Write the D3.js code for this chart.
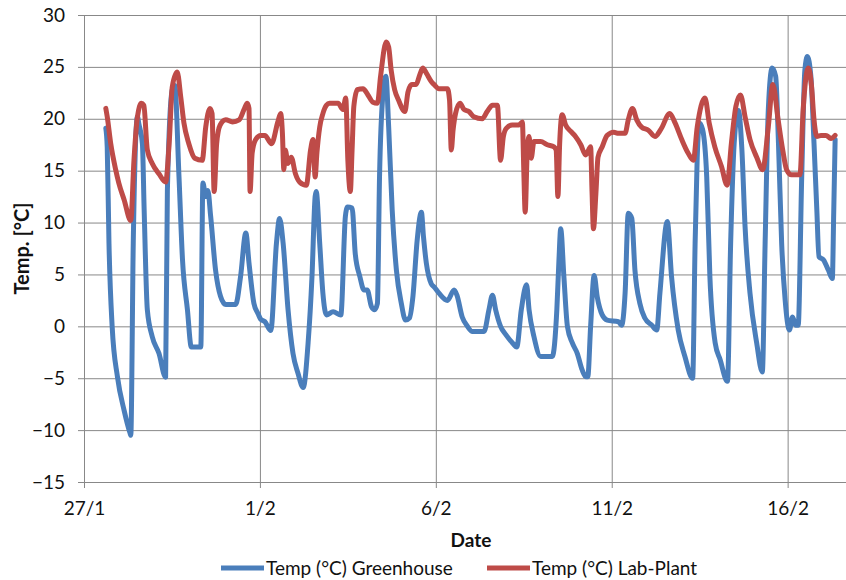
<!DOCTYPE html>
<html>
<head>
<meta charset="utf-8">
<script src="https://cdn.jsdelivr.net/npm/d3@7"></script>
<style>
  html, body { margin: 0; padding: 0; background: #fff; }
  svg { display: block; font-family: Lato, "Open Sans", sans-serif; }
</style>
</head>
<body>
<svg id="chart" width="846" height="580"></svg>
<script>
// Readings, time given as days since 27 Jan
const greenhouseDays = [0.62,0.66,0.71,0.80,0.95,1.14,1.31,1.33,1.40,1.52,1.56,1.66,1.71,1.80,1.94,2.13,2.32,2.37,2.51,2.58,2.70,2.80,2.94,3.05,3.32,3.38,3.46,3.52,3.60,3.74,3.88,4.03,4.31,4.45,4.60,4.69,4.83,4.95,5.02,5.14,5.31,5.47,5.56,5.66,5.80,5.94,6.08,6.23,6.37,6.48,6.57,6.60,6.70,6.79,6.89,7.08,7.30,7.43,7.49,7.62,7.71,7.84,7.96,8.05,8.17,8.26,8.34,8.40,8.50,8.58,8.66,8.76,8.88,9.02,9.14,9.25,9.35,9.47,9.59,9.65,9.73,9.87,9.95,10.09,10.33,10.52,10.60,10.75,10.90,11.04,11.37,11.51,11.61,11.70,11.84,11.99,12.18,12.30,12.43,12.58,12.65,12.79,12.98,13.31,13.44,13.50,13.55,13.64,13.74,13.88,14.02,14.16,14.26,14.32,14.40,14.50,14.59,14.73,14.87,15.19,15.28,15.38,15.47,15.57,15.66,15.80,15.94,16.14,16.28,16.37,16.58,16.70,16.89,17.08,17.30,17.37,17.43,17.49,17.58,17.70,17.79,17.94,18.08,18.29,18.38,18.48,18.60,18.70,18.79,18.93,19.12,19.28,19.36,19.45,19.56,19.66,19.74,19.83,19.93,20.05,20.14,20.23,20.30,20.40,20.49,20.56,20.66,20.75,20.83,20.89,21.02,21.16,21.27,21.31,21.35];
const greenhouseTemp = [19.1,17.3,8.0,0.0,-4.85,-8.1,-10.3,-10.5,8.0,20.2,19.5,17.6,11.2,1.6,-1.0,-2.6,-4.9,13.1,22.8,23.2,14.4,6.4,1.6,-2.0,-2.0,13.8,12.5,13.1,10.6,5.4,2.9,2.1,2.1,4.8,9.0,6.1,2.2,1.2,0.7,0.45,-0.4,8.0,10.4,8.0,1.6,-2.6,-4.5,-5.9,-1.6,4.8,12.5,13.0,8.0,3.2,1.1,1.4,1.1,10.6,11.5,11.4,7.0,4.8,3.5,3.5,1.9,1.6,2.2,14.4,22.5,24.1,19.2,11.2,5.4,2.2,0.6,0.8,2.9,8.3,11.0,8.6,6.1,4.1,3.8,3.2,2.5,3.5,3.0,0.9,0.0,-0.5,-0.5,1.6,3.0,1.6,0.0,-0.8,-1.6,-2.0,1.6,4.0,1.6,-1.0,-2.9,-2.9,1.6,6.4,9.4,4.8,0.0,-1.6,-2.6,-4.2,-4.85,-4.85,0.0,4.9,2.8,1.1,0.6,0.45,0.1,3.2,10.9,10.4,5.4,2.2,0.8,0.1,-0.35,3.2,10.1,4.8,-0.35,-2.9,-5.0,8.0,16.3,19.6,19.0,14.4,4.8,-1.6,-3.2,-5.3,8.0,17.6,20.8,17.0,9.6,3.2,-1.6,-4.4,8.0,20.8,24.9,24.1,17.6,8.0,2.5,-0.35,0.9,0.1,0.1,14.4,24.7,26.0,24.1,17.6,11.2,6.7,6.4,5.4,4.6,11.0,18.0];

const labPlantDays = [0.62,0.66,0.76,0.90,0.99,1.14,1.33,1.42,1.52,1.63,1.70,1.80,1.94,2.13,2.32,2.42,2.51,2.65,2.75,2.84,2.98,3.15,3.36,3.46,3.58,3.64,3.70,3.77,3.87,4.03,4.22,4.41,4.55,4.64,4.69,4.72,4.78,4.88,5.02,5.14,5.33,5.51,5.59,5.64,5.68,5.72,5.80,5.89,6.01,6.13,6.32,6.44,6.51,6.57,6.62,6.70,6.79,6.89,6.98,7.22,7.36,7.44,7.50,7.57,7.62,7.67,7.77,7.93,8.07,8.21,8.34,8.43,8.59,8.66,8.73,8.83,8.94,9.12,9.21,9.32,9.44,9.54,9.63,9.73,9.87,9.95,10.09,10.33,10.39,10.44,10.49,10.56,10.69,10.80,10.94,11.08,11.32,11.46,11.61,11.75,11.84,11.92,12.01,12.17,12.36,12.46,12.50,12.54,12.60,12.65,12.71,12.79,12.98,13.17,13.36,13.42,13.47,13.52,13.59,13.69,13.83,13.97,14.12,14.26,14.40,14.44,14.48,14.55,14.61,14.73,14.87,15.06,15.19,15.38,15.47,15.59,15.71,15.85,16.04,16.23,16.40,16.65,16.80,16.99,17.17,17.32,17.43,17.65,17.77,17.93,18.12,18.28,18.40,18.53,18.66,18.79,18.93,19.12,19.29,19.45,19.58,19.73,19.86,19.97,20.11,20.35,20.44,20.59,20.68,20.75,20.83,20.95,21.09,21.23,21.35];
const labPlantTemp = [21.0,20.2,17.6,15.1,13.8,12.2,10.2,16.0,20.2,21.5,21.3,17.0,15.7,14.7,13.9,17.6,23.1,24.5,22.1,19.6,17.6,16.2,16.0,19.2,21.0,20.5,13.0,17.6,19.4,19.9,19.7,19.9,20.9,21.5,21.0,13.0,16.7,18.0,18.4,18.4,17.6,19.7,20.5,18.6,15.1,17.0,15.7,16.3,14.7,13.9,13.6,17.0,18.0,14.4,16.7,19.2,20.5,21.3,21.5,21.5,20.9,22.0,16.0,13.0,17.0,21.2,22.8,22.9,22.3,21.6,21.5,24.1,27.4,26.9,24.7,22.8,21.8,20.7,22.6,23.3,23.3,24.2,24.9,24.4,23.6,23.3,22.9,22.9,21.8,17.0,18.9,20.5,21.5,20.9,20.7,20.2,20.0,20.7,21.3,21.3,16.0,18.3,19.1,19.4,19.4,19.7,15.1,11.0,17.0,18.3,16.2,17.8,17.8,17.5,17.3,17.0,12.5,17.6,20.4,19.4,18.8,18.3,17.5,16.5,17.3,13.0,9.4,12.8,16.3,17.3,18.4,18.7,18.6,18.6,19.9,21.0,19.9,19.2,18.9,18.3,19.0,20.5,19.6,18.0,16.7,16.0,19.2,22.0,19.6,17.3,15.4,13.6,17.6,21.2,22.3,20.2,18.0,16.3,15.1,19.2,23.3,19.9,17.0,15.1,14.6,14.6,20.8,24.9,23.1,19.9,18.3,18.4,18.4,18.1,18.4];

const seriesNames = ["Temp (°C) Greenhouse", "Temp (°C) Lab-Plant"];
const seriesColors = ["#4A7EBB", "#BE4B48"];
const yTicks = [-15, -10, -5, 0, 5, 10, 15, 20, 25, 30];
const xTickDates = ["2014-01-27", "2014-02-01", "2014-02-06", "2014-02-11", "2014-02-16"];
const yTitle = "Temp. [°C]";
const xTitle = "Date";

const startMs = Date.UTC(2014, 0, 27);
const toDate = d => new Date(startMs + d * 864e5);

const svg = d3.select("#chart");
const plotLeft = 84, plotRight = 858, plotTop = 15, plotBottom = 482;

const x = d3.scaleUtc()
  .domain([new Date(Date.UTC(2014, 0, 27)), new Date(Date.UTC(2014, 1, 18))])
  .range([plotLeft, plotRight]);
const y = d3.scaleLinear().domain([-15, 30]).range([plotBottom, plotTop]);

const gridColor = "#888888";
const fontSize = 19;
const textColor = "#111";

// horizontal gridlines, short outer ticks and labels
const yAxis = svg.append("g")
  .attr("transform", `translate(${plotLeft},0)`)
  .call(d3.axisLeft(y).tickValues(yTicks).tickSizeInner(6).tickSizeOuter(0).tickPadding(13));
yAxis.select(".domain").remove();
yAxis.selectAll(".tick line").attr("stroke", gridColor);
yAxis.selectAll(".tick text").attr("font-size", fontSize).attr("fill", textColor).attr("font-family", "Lato, sans-serif");

svg.append("g")
  .attr("transform", `translate(${plotLeft},0)`)
  .call(d3.axisRight(y).tickValues(yTicks).tickSize(plotRight - plotLeft).tickFormat(""))
  .call(g => g.select(".domain").remove())
  .selectAll(".tick line").attr("stroke", gridColor);

// vertical gridlines every 5 days, ticks below the axis
const xDates = xTickDates.map(s => new Date(s + "T00:00:00Z"));
const xAxis = svg.append("g")
  .attr("transform", `translate(0,${plotBottom})`)
  .call(d3.axisBottom(x).tickValues(xDates).tickFormat(d3.utcFormat("%-d/%-m"))
    .tickSizeInner(6).tickSizeOuter(0).tickPadding(14));
xAxis.select(".domain").remove();
xAxis.selectAll(".tick line").attr("stroke", gridColor);
xAxis.selectAll(".tick text").attr("font-size", fontSize).attr("fill", textColor).attr("font-family", "Lato, sans-serif");

svg.append("g")
  .attr("transform", `translate(0,${plotBottom})`)
  .call(d3.axisTop(x).tickValues(xDates).tickSize(plotBottom - plotTop).tickFormat(""))
  .call(g => g.select(".domain").remove())
  .selectAll(".tick line").attr("stroke", gridColor);

// axis titles
svg.append("text")
  .attr("x", (plotLeft + plotRight) / 2).attr("y", 547)
  .attr("text-anchor", "middle").attr("font-weight", "bold")
  .attr("font-size", fontSize).attr("fill", textColor)
  .text(xTitle);
svg.append("text")
  .attr("transform", `translate(29,${(plotTop + plotBottom) / 2}) rotate(-90)`)
  .attr("text-anchor", "middle").attr("font-weight", "bold")
  .attr("font-size", fontSize + 1).attr("fill", textColor)
  .text(yTitle);

// temperature lines
const line = d3.line().curve(d3.curveMonotoneX).x(d => x(d.t)).y(d => y(d.v));
const series = [
  greenhouseDays.map((d, i) => ({ t: toDate(d), v: greenhouseTemp[i] })),
  labPlantDays.map((d, i) => ({ t: toDate(d), v: labPlantTemp[i] }))
];
series.forEach((s, i) => {
  svg.append("path")
    .datum(s)
    .attr("fill", "none")
    .attr("stroke", seriesColors[i])
    .attr("stroke-width", 5)
    .attr("stroke-linejoin", "round")
    .attr("stroke-linecap", "round")
    .attr("d", line);
});

// legend
const legendX = [221, 487];
seriesNames.forEach((name, i) => {
  const g = svg.append("g").attr("transform", `translate(${legendX[i]},568)`);
  g.append("line").attr("x1", 0).attr("x2", 43).attr("y1", 0).attr("y2", 0)
    .attr("stroke", seriesColors[i]).attr("stroke-width", 5);
  g.append("text").attr("x", 45).attr("y", 6.5)
    .attr("font-size", fontSize).attr("fill", textColor)
    .text(name);
});
</script>
</body>
</html>
